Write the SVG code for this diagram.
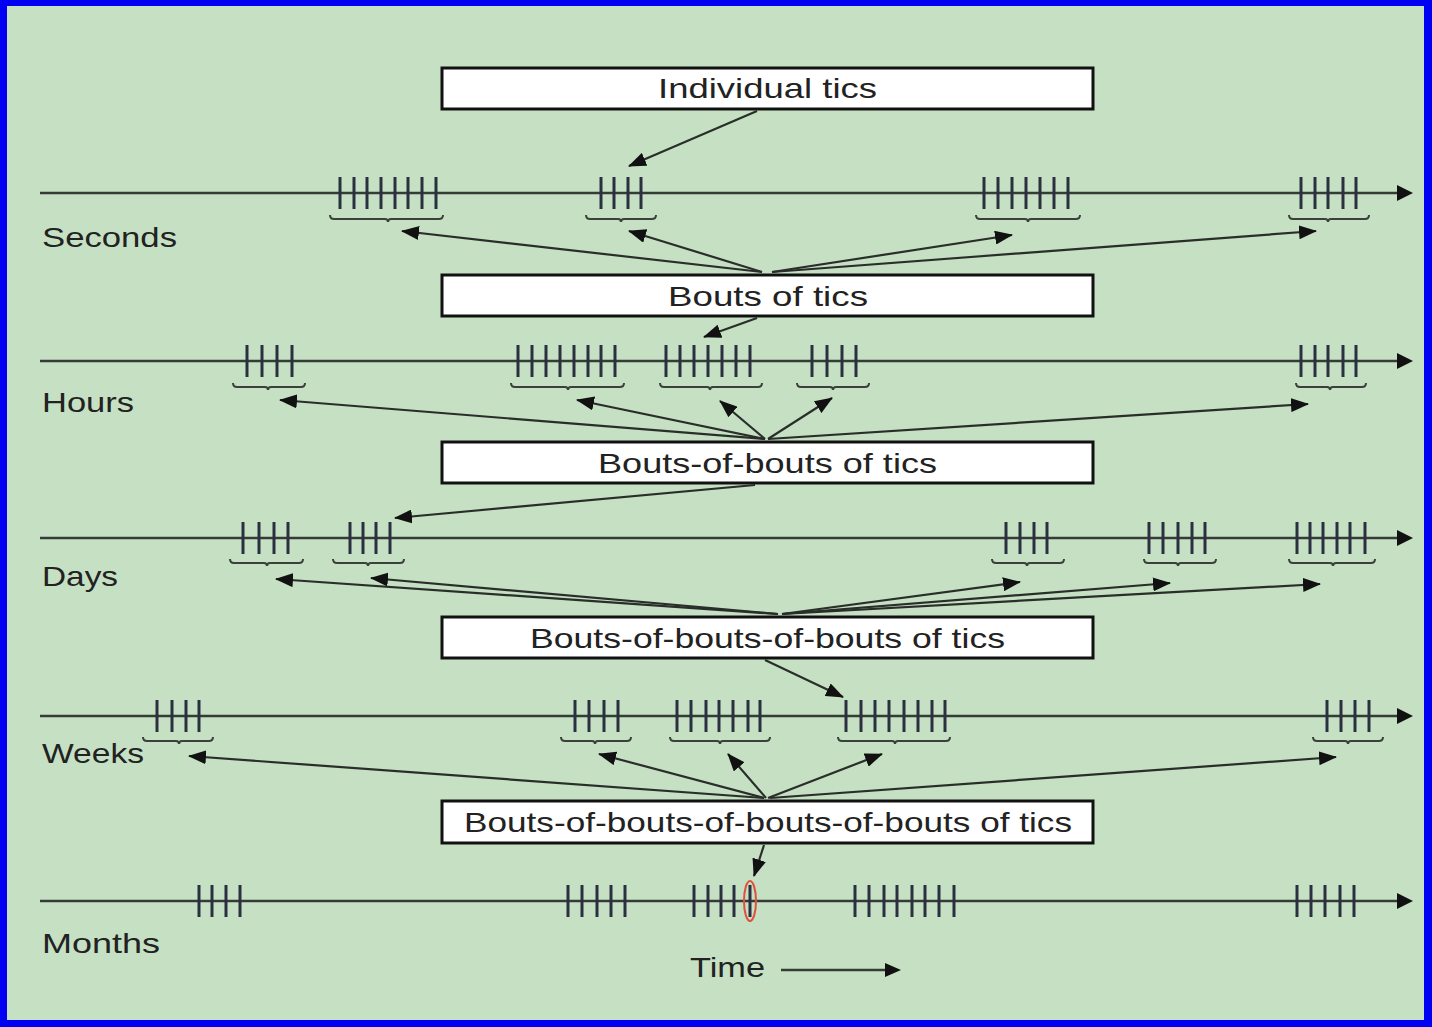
<svg xmlns="http://www.w3.org/2000/svg" width="1432" height="1027" viewBox="0 0 1432 1027">
<defs>
<style>
.box{fill:#ffffff;stroke:#111111;stroke-width:3}
.bt{font-family:"Liberation Sans",Arial,sans-serif;font-size:28px;fill:#222222;text-anchor:middle}
.lbl{font-family:"Liberation Sans",Arial,sans-serif;font-size:28px;fill:#222222}
.axis{stroke:#353b35;stroke-width:2.5;fill:none}
.tic{stroke:#2a3040;stroke-width:3}
.br{stroke:#3a403a;stroke-width:2;fill:none}
.con{stroke:#2a2e2a;stroke-width:2.2;fill:none;marker-end:url(#ah)}
.ahd{fill:#111111}
</style>
<marker id="ah" viewBox="0 0 18 14" refX="17" refY="7" markerWidth="18" markerHeight="14" markerUnits="userSpaceOnUse" orient="auto">
<path d="M0,0 L18,7 L0,14 z" fill="#111111"/>
</marker>
</defs>
<rect x="0" y="0" width="1432" height="1027" fill="#0000f2"/>
<rect x="7" y="6" width="1417" height="1014" fill="#c6e0c4"/>

<g id="axis-seconds">
<line class="axis" x1="40" y1="193" x2="1400" y2="193"/>
<path class="ahd" d="M1397,185 L1413,193 L1397,201 z"/>
<path class="tic" d="M340,177V209M354,177V209M367,177V209M381,177V209M395,177V209M408,177V209M422,177V209M436,177V209M601,177V209M614,177V209M628,177V209M641,177V209M984,177V209M998,177V209M1012,177V209M1026,177V209M1040,177V209M1054,177V209M1068,177V209M1301,177V209M1315,177V209M1328,177V209M1343,177V209M1356,177V209"/>
<path class="br" d="M330,215Q330,219 334,219L385,219Q388,219 388,222Q388,219 391,219L439,219Q443,219 443,215M586,215Q586,219 590,219L618,219Q621,219 621,222Q621,219 624,219L652,219Q656,219 656,215M976,215Q976,219 980,219L1025,219Q1028,219 1028,222Q1028,219 1031,219L1076,219Q1080,219 1080,215M1289,215Q1289,219 1293,219L1325,219Q1328,219 1328,222Q1328,219 1331,219L1365,219Q1369,219 1369,215"/>
<text class="lbl" x="42" y="247" textLength="135" lengthAdjust="spacingAndGlyphs">Seconds</text>
</g>

<g id="axis-hours">
<line class="axis" x1="40" y1="361" x2="1400" y2="361"/>
<path class="ahd" d="M1397,353 L1413,361 L1397,369 z"/>
<path class="tic" d="M247,345V377M262,345V377M277,345V377M292,345V377M518,345V377M532,345V377M546,345V377M560,345V377M574,345V377M588,345V377M601,345V377M615,345V377M666,345V377M680,345V377M694,345V377M708,345V377M722,345V377M736,345V377M750,345V377M812,345V377M827,345V377M842,345V377M856,345V377M1301,345V377M1315,345V377M1328,345V377M1343,345V377M1356,345V377"/>
<path class="br" d="M233,383Q233,387 237,387L265,387Q268,387 268,390Q268,387 271,387L301,387Q305,387 305,383M511,383Q511,387 515,387L565,387Q568,387 568,390Q568,387 571,387L620,387Q624,387 624,383M660,383Q660,387 664,387L707,387Q710,387 710,390Q710,387 713,387L758,387Q762,387 762,383M797,383Q797,387 801,387L830,387Q833,387 833,390Q833,387 836,387L865,387Q869,387 869,383M1296,383Q1296,387 1300,387L1327,387Q1330,387 1330,390Q1330,387 1333,387L1362,387Q1366,387 1366,383"/>
<text class="lbl" x="42" y="412" textLength="92" lengthAdjust="spacingAndGlyphs">Hours</text>
</g>

<g id="axis-days">
<line class="axis" x1="40" y1="538" x2="1400" y2="538"/>
<path class="ahd" d="M1397,530 L1413,538 L1397,546 z"/>
<path class="tic" d="M243,522V554M259,522V554M274,522V554M288,522V554M350,522V554M363,522V554M376,522V554M390,522V554M1006,522V554M1020,522V554M1034,522V554M1047,522V554M1149,522V554M1163,522V554M1178,522V554M1192,522V554M1205,522V554M1297,522V554M1310,522V554M1323,522V554M1337,522V554M1350,522V554M1365,522V554"/>
<path class="br" d="M230,559Q230,563 234,563L264,563Q267,563 267,566Q267,563 270,563L299,563Q303,563 303,559M333,559Q333,563 337,563L365,563Q368,563 368,566Q368,563 371,563L400,563Q404,563 404,559M992,559Q992,563 996,563L1024,563Q1027,563 1027,566Q1027,563 1030,563L1060,563Q1064,563 1064,559M1144,559Q1144,563 1148,563L1175,563Q1178,563 1178,566Q1178,563 1181,563L1212,563Q1216,563 1216,559M1289,559Q1289,563 1293,563L1330,563Q1333,563 1333,566Q1333,563 1336,563L1371,563Q1375,563 1375,559"/>
<text class="lbl" x="42" y="586" textLength="76" lengthAdjust="spacingAndGlyphs">Days</text>
</g>

<g id="axis-weeks">
<line class="axis" x1="40" y1="716" x2="1400" y2="716"/>
<path class="ahd" d="M1397,708 L1413,716 L1397,724 z"/>
<path class="tic" d="M157,700V732M172,700V732M186,700V732M199,700V732M575,700V732M589,700V732M604,700V732M618,700V732M677,700V732M691,700V732M706,700V732M719,700V732M733,700V732M748,700V732M760,700V732M846,700V732M861,700V732M875,700V732M889,700V732M904,700V732M918,700V732M932,700V732M945,700V732M1327,700V732M1341,700V732M1355,700V732M1369,700V732"/>
<path class="br" d="M143,737Q143,741 147,741L176,741Q179,741 179,744Q179,741 182,741L209,741Q213,741 213,737M561,737Q561,741 565,741L592,741Q595,741 595,744Q595,741 598,741L627,741Q631,741 631,737M670,737Q670,741 674,741L717,741Q720,741 720,744Q720,741 723,741L766,741Q770,741 770,737M838,737Q838,741 842,741L892,741Q895,741 895,744Q895,741 898,741L946,741Q950,741 950,737M1313,737Q1313,741 1317,741L1345,741Q1348,741 1348,744Q1348,741 1351,741L1379,741Q1383,741 1383,737"/>
<text class="lbl" x="42" y="763" textLength="102" lengthAdjust="spacingAndGlyphs">Weeks</text>
</g>

<g id="axis-months">
<line class="axis" x1="40" y1="901" x2="1400" y2="901"/>
<path class="ahd" d="M1397,893 L1413,901 L1397,909 z"/>
<path class="tic" d="M199,885V917M212,885V917M226,885V917M240,885V917M568,885V917M582,885V917M597,885V917M611,885V917M625,885V917M694,885V917M708,885V917M721,885V917M734,885V917M750,885V917M855,885V917M869,885V917M884,885V917M897,885V917M912,885V917M925,885V917M939,885V917M954,885V917M1297,885V917M1311,885V917M1325,885V917M1340,885V917M1354,885V917"/>
<ellipse cx="750" cy="901" rx="6" ry="20" fill="none" stroke="#e0503c" stroke-width="2"/>
<text class="lbl" x="42" y="953" textLength="118" lengthAdjust="spacingAndGlyphs">Months</text>
</g>

<g id="time-legend">
<text class="lbl" x="690" y="977" textLength="75" lengthAdjust="spacingAndGlyphs">Time</text>
<line class="axis" x1="781" y1="970" x2="890" y2="970"/>
<path class="ahd" d="M885,963 L901,970 L885,977 z"/>
</g>

<g id="node-individual">
<rect class="box" x="442" y="68" width="651" height="41"/>
<text class="bt" x="767.5" y="98" textLength="219" lengthAdjust="spacingAndGlyphs">Individual tics</text>
</g>
<g id="node-bouts">
<rect class="box" x="442" y="275" width="651" height="41"/>
<text class="bt" x="768" y="306" textLength="200" lengthAdjust="spacingAndGlyphs">Bouts of tics</text>
</g>
<g id="node-bouts2">
<rect class="box" x="442" y="442" width="651" height="41"/>
<text class="bt" x="767.5" y="473" textLength="339" lengthAdjust="spacingAndGlyphs">Bouts-of-bouts of tics</text>
</g>
<g id="node-bouts3">
<rect class="box" x="442" y="617" width="651" height="41"/>
<text class="bt" x="767.5" y="648" textLength="475" lengthAdjust="spacingAndGlyphs">Bouts-of-bouts-of-bouts of tics</text>
</g>
<g id="node-bouts4">
<rect class="box" x="442" y="801" width="651" height="42"/>
<text class="bt" x="768" y="832" textLength="608" lengthAdjust="spacingAndGlyphs">Bouts-of-bouts-of-bouts-of-bouts of tics</text>
</g>

<g id="connectors">
<line class="con" x1="757" y1="111" x2="629" y2="166"/>
<line class="con" x1="762" y1="272" x2="402" y2="231"/>
<line class="con" x1="762" y1="272" x2="629" y2="231"/>
<line class="con" x1="772" y1="272" x2="1012" y2="235"/>
<line class="con" x1="772" y1="272" x2="1316" y2="231"/>
<line class="con" x1="757" y1="318" x2="704" y2="337"/>
<line class="con" x1="765" y1="439" x2="280" y2="400"/>
<line class="con" x1="765" y1="439" x2="577" y2="400"/>
<line class="con" x1="765" y1="439" x2="720" y2="401"/>
<line class="con" x1="768" y1="439" x2="832" y2="398"/>
<line class="con" x1="768" y1="439" x2="1308" y2="404"/>
<line class="con" x1="755" y1="485" x2="395" y2="518"/>
<line class="con" x1="778" y1="614" x2="276" y2="579"/>
<line class="con" x1="778" y1="614" x2="371" y2="578"/>
<line class="con" x1="782" y1="614" x2="1020" y2="582"/>
<line class="con" x1="782" y1="614" x2="1170" y2="583"/>
<line class="con" x1="782" y1="614" x2="1320" y2="584"/>
<line class="con" x1="765" y1="660" x2="843" y2="697"/>
<line class="con" x1="764" y1="798" x2="189" y2="756"/>
<line class="con" x1="764" y1="798" x2="599" y2="754"/>
<line class="con" x1="766" y1="798" x2="728" y2="754"/>
<line class="con" x1="768" y1="798" x2="882" y2="754"/>
<line class="con" x1="770" y1="798" x2="1336" y2="757"/>
<line class="con" x1="764" y1="845" x2="754" y2="876"/>
</g>
</svg>
